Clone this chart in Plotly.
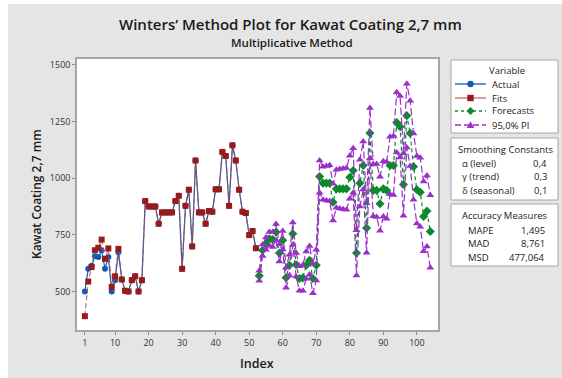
import plotly.graph_objects as go

# ---------------- data ----------------
index_hist = list(range(1, 53))
actual = [500, 600, 614, 655, 652, 682, 600, 652, 500, 550, 673, 553, 503, 500, 550, 567, 500, 550,
          899, 875, 875, 875, 799, 849, 849, 849, 849, 899, 922, 600, 878, 949, 699, 1078, 849, 849,
          799, 855, 852, 951, 951, 1116, 1098, 878, 1145, 1078, 949, 852, 846, 749, 767, 691]
fits = [391, 544, 608, 682, 693, 729, 644, 690, 520, 567, 688, 553, 503, 500, 550, 567, 500, 550,
        899, 875, 875, 875, 799, 849, 849, 849, 849, 899, 922, 600, 878, 949, 699, 1078, 849, 849,
        799, 855, 852, 951, 951, 1116, 1098, 878, 1145, 1078, 949, 852, 846, 749, 767, 691]

index_fc = list(range(53, 105))
forecasts = [569, 682, 711, 733, 729, 762, 670, 726, 561, 616, 755, 618, 557, 560, 616, 638, 557, 616,
             1007, 978, 978, 978, 894, 953, 953, 953, 953, 1004, 1034, 670, 978, 1056, 780, 1199, 946,
             946, 887, 953, 946, 1056, 1056, 1246, 1227, 972, 1276, 1198, 1051, 949, 938, 831, 855, 765]
upper_pi = [591, 707, 738, 763, 762, 798, 708, 767, 605, 662, 804, 670, 611, 617, 676, 701, 622, 684,
            1078, 1051, 1054, 1057, 975, 1037, 1040, 1043, 1045, 1099, 1132, 770, 1081, 1162, 889, 1310,
            1060, 1063, 1006, 1075, 1071, 1183, 1186, 1379, 1363, 1110, 1417, 1342, 1197, 1098, 1090,
            985, 1012, 925]
lower_pi = [547, 657, 684, 703, 696, 726, 632, 685, 517, 570, 706, 566, 503, 503, 556, 575, 492, 548,
            936, 905, 902, 899, 813, 869, 866, 863, 861, 909, 936, 570, 875, 950, 671, 1088, 832, 829,
            768, 831, 821, 929, 926, 1113, 1091, 834, 1135, 1054, 905, 800, 786, 677, 698, 605]

x_ticks = [1, 10, 20, 30, 40, 50, 60, 70, 80, 90, 100]
y_ticks = [500, 750, 1000, 1250, 1500]

legend_names = ["Actual", "Fits", "Forecasts", "95,0% PI"]
smooth_labels = ["α (level)", "γ (trend)", "δ (seasonal)"]
smooth_values = ["0,4", "0,3", "0,1"]
acc_labels = ["MAPE", "MAD", "MSD"]
acc_values = ["1,495", "8,761", "477,064"]

# ---------------- styles ----------------
W, H = 562, 378
L, R, T, B = 77, 124, 59, 48
PW, PH = W - L - R, H - T - B
FONT = "Open Sans"
TXT = "#1a1a1a"
C_ACT = "#0f5cb5"
C_FIT_M = "#9a1a1a"
C_FIT_L = "rgba(190,70,70,0.8)"
C_FC = "#0b8a2b"
C_PI = "#9b2fc9"
GRAYBG = "#e5e5e5"
BORDER = "#a6a6a6"


def px(xp):
    return (xp - L) / PW


def py(yp):
    return (H - B - yp) / PH


fig = go.Figure()
fig.add_trace(go.Scatter(x=index_hist, y=actual, mode="lines+markers", name=legend_names[0],
                         line=dict(color=C_ACT, width=1.2),
                         marker=dict(symbol="circle", size=6, color=C_ACT)))
fig.add_trace(go.Scatter(x=index_hist, y=fits, mode="lines+markers", name=legend_names[1],
                         line=dict(color=C_FIT_L, width=1.2, dash="5px,3px"),
                         marker=dict(symbol="square", size=6, color=C_FIT_M)))
fig.add_trace(go.Scatter(x=index_fc, y=forecasts, mode="lines+markers", name=legend_names[2],
                         line=dict(color=C_FC, width=1.2, dash="4px,3px"),
                         marker=dict(symbol="diamond", size=7, color=C_FC)))
fig.add_trace(go.Scatter(x=index_fc, y=upper_pi, mode="lines+markers", name=legend_names[3],
                         line=dict(color=C_PI, width=1.2, dash="7px,3px"),
                         marker=dict(symbol="triangle-up", size=7, color=C_PI)))
fig.add_trace(go.Scatter(x=index_fc, y=lower_pi, mode="lines+markers", name=legend_names[3],
                         showlegend=False,
                         line=dict(color=C_PI, width=1.2, dash="7px,3px"),
                         marker=dict(symbol="triangle-up", size=7, color=C_PI)))

shapes = []
annotations = []

# white strips at the very edge (outside the gray panel)
shapes.append(dict(type="rect", xref="paper", yref="paper", x0=px(0), x1=px(8), y0=py(H), y1=py(0),
                   fillcolor="white", line=dict(width=0), layer="below"))
shapes.append(dict(type="rect", xref="paper", yref="paper", x0=px(0), x1=px(W), y0=py(4), y1=py(0),
                   fillcolor="white", line=dict(width=0), layer="below"))

# titles
annotations.append(dict(text="Winters’ Method Plot for Kawat Coating 2,7 mm", xref="paper", yref="paper",
                        x=px(290), y=py(24), showarrow=False, xanchor="center", yanchor="middle",
                        font=dict(family=FONT, size=15, color=TXT, weight=600)))
annotations.append(dict(text="Multiplicative Method", xref="paper", yref="paper",
                        x=px(292), y=py(43), showarrow=False, xanchor="center", yanchor="middle",
                        font=dict(family=FONT, size=11.5, color=TXT, weight=600)))
# axis titles
annotations.append(dict(text="Index", xref="paper", yref="paper",
                        x=px(257), y=py(363), showarrow=False, xanchor="center", yanchor="middle",
                        font=dict(family=FONT, size=12.5, color=TXT, weight=600)))
annotations.append(dict(text="Kawat Coating 2,7 mm", xref="paper", yref="paper", textangle=-90,
                        x=px(36), y=py(194), showarrow=False, xanchor="center", yanchor="middle",
                        font=dict(family=FONT, size=12, color=TXT, weight=600)))

# legend / info boxes
boxes = [(60, 133), (138, 200), (204, 266)]
for (y0, y1) in boxes:
    shapes.append(dict(type="rect", xref="paper", yref="paper", x0=px(451), x1=px(558),
                       y0=py(y1), y1=py(y0), fillcolor="white", line=dict(color=BORDER, width=1)))

fs = 9.5
annotations.append(dict(text="Variable", xref="paper", yref="paper", x=px(507), y=py(71),
                        showarrow=False, xanchor="center", yanchor="middle",
                        font=dict(family=FONT, size=fs, color=TXT)))
row_y = [84, 98, 111, 125]
line_styles = [("solid", C_ACT), ("solid", C_FIT_L), ("3px,3px", C_FC), ("6px,3px", C_PI)]
mk_colors = [C_ACT, C_FIT_M, C_FC, C_PI]
for k, name in enumerate(legend_names):
    yy = row_y[k]
    dash, lc = line_styles[k]
    shapes.append(dict(type="line", xref="paper", yref="paper", x0=px(455), x1=px(486),
                       y0=py(yy), y1=py(yy), line=dict(color=lc, width=1.3, dash=dash)))
    cx, r, mc = 470.5, 3.2, mk_colors[k]
    if k == 0:
        shapes.append(dict(type="circle", xref="paper", yref="paper", x0=px(cx - r), x1=px(cx + r),
                           y0=py(yy + r), y1=py(yy - r), fillcolor=mc, line=dict(color=mc, width=0)))
    elif k == 1:
        shapes.append(dict(type="rect", xref="paper", yref="paper", x0=px(cx - r), x1=px(cx + r),
                           y0=py(yy + r), y1=py(yy - r), fillcolor=mc, line=dict(color=mc, width=0)))
    elif k == 2:
        d = 4
        path = (f"M {px(cx)} {py(yy - d)} L {px(cx + d)} {py(yy)} L {px(cx)} {py(yy + d)} "
                f"L {px(cx - d)} {py(yy)} Z")
        shapes.append(dict(type="path", xref="paper", yref="paper", path=path, fillcolor=mc,
                           line=dict(color=mc, width=0)))
    else:
        d = 3.8
        path = (f"M {px(cx)} {py(yy - d)} L {px(cx + d)} {py(yy + d * 0.8)} "
                f"L {px(cx - d)} {py(yy + d * 0.8)} Z")
        shapes.append(dict(type="path", xref="paper", yref="paper", path=path, fillcolor=mc,
                           line=dict(color=mc, width=0)))
    annotations.append(dict(text=name, xref="paper", yref="paper", x=px(490), y=py(yy),
                            showarrow=False, xanchor="left", yanchor="middle",
                            font=dict(family=FONT, size=fs, color=TXT)))

annotations.append(dict(text="Smoothing Constants", xref="paper", yref="paper", x=px(505), y=py(149),
                        showarrow=False, xanchor="center", yanchor="middle",
                        font=dict(family=FONT, size=fs, color=TXT)))
for k in range(3):
    yy = [163, 176, 190][k]
    annotations.append(dict(text=smooth_labels[k], xref="paper", yref="paper", x=px(460), y=py(yy),
                            showarrow=False, xanchor="left", yanchor="middle",
                            font=dict(family=FONT, size=fs, color=TXT)))
    annotations.append(dict(text=smooth_values[k], xref="paper", yref="paper", x=px(549), y=py(yy),
                            showarrow=False, xanchor="right", yanchor="middle",
                            font=dict(family=FONT, size=fs, color=TXT)))

annotations.append(dict(text="Accuracy Measures", xref="paper", yref="paper", x=px(505), y=py(216),
                        showarrow=False, xanchor="center", yanchor="middle",
                        font=dict(family=FONT, size=fs, color=TXT)))
for k in range(3):
    yy = [230, 243, 257][k]
    annotations.append(dict(text=acc_labels[k], xref="paper", yref="paper", x=px(466), y=py(yy),
                            showarrow=False, xanchor="left", yanchor="middle",
                            font=dict(family=FONT, size=fs, color=TXT)))
    annotations.append(dict(text=acc_values[k], xref="paper", yref="paper", x=px(547), y=py(yy),
                            showarrow=False, xanchor="right", yanchor="middle",
                            font=dict(family=FONT, size=fs, color=TXT)))

fig.update_layout(
    width=W, height=H,
    margin=dict(l=L, r=R, t=T, b=B, pad=0, autoexpand=False),
    paper_bgcolor=GRAYBG, plot_bgcolor="white",
    showlegend=False,
    shapes=shapes, annotations=annotations,
    font=dict(family=FONT, color="#333333"),
)
fig.update_xaxes(range=[-1.35, 106.3], tickmode="array", tickvals=x_ticks, automargin=False,
                 ticks="outside", ticklen=3, tickcolor="#8c8c8c", tickwidth=1,
                 showgrid=False, zeroline=False, showline=True, mirror=True,
                 linecolor=BORDER, linewidth=1.5,
                 tickfont=dict(family=FONT, size=9, color="#333333"))
fig.update_yaxes(range=[330, 1526], tickmode="array", tickvals=y_ticks, automargin=False,
                 ticks="outside", ticklen=3, tickcolor="#8c8c8c", tickwidth=1,
                 showgrid=False, zeroline=False, showline=True, mirror=True,
                 linecolor=BORDER, linewidth=1.5,
                 tickfont=dict(family=FONT, size=9, color="#333333"))

fig.write_html("out.html", config={"displayModeBar": False},
               post_script="document.body.style.margin='0';")
